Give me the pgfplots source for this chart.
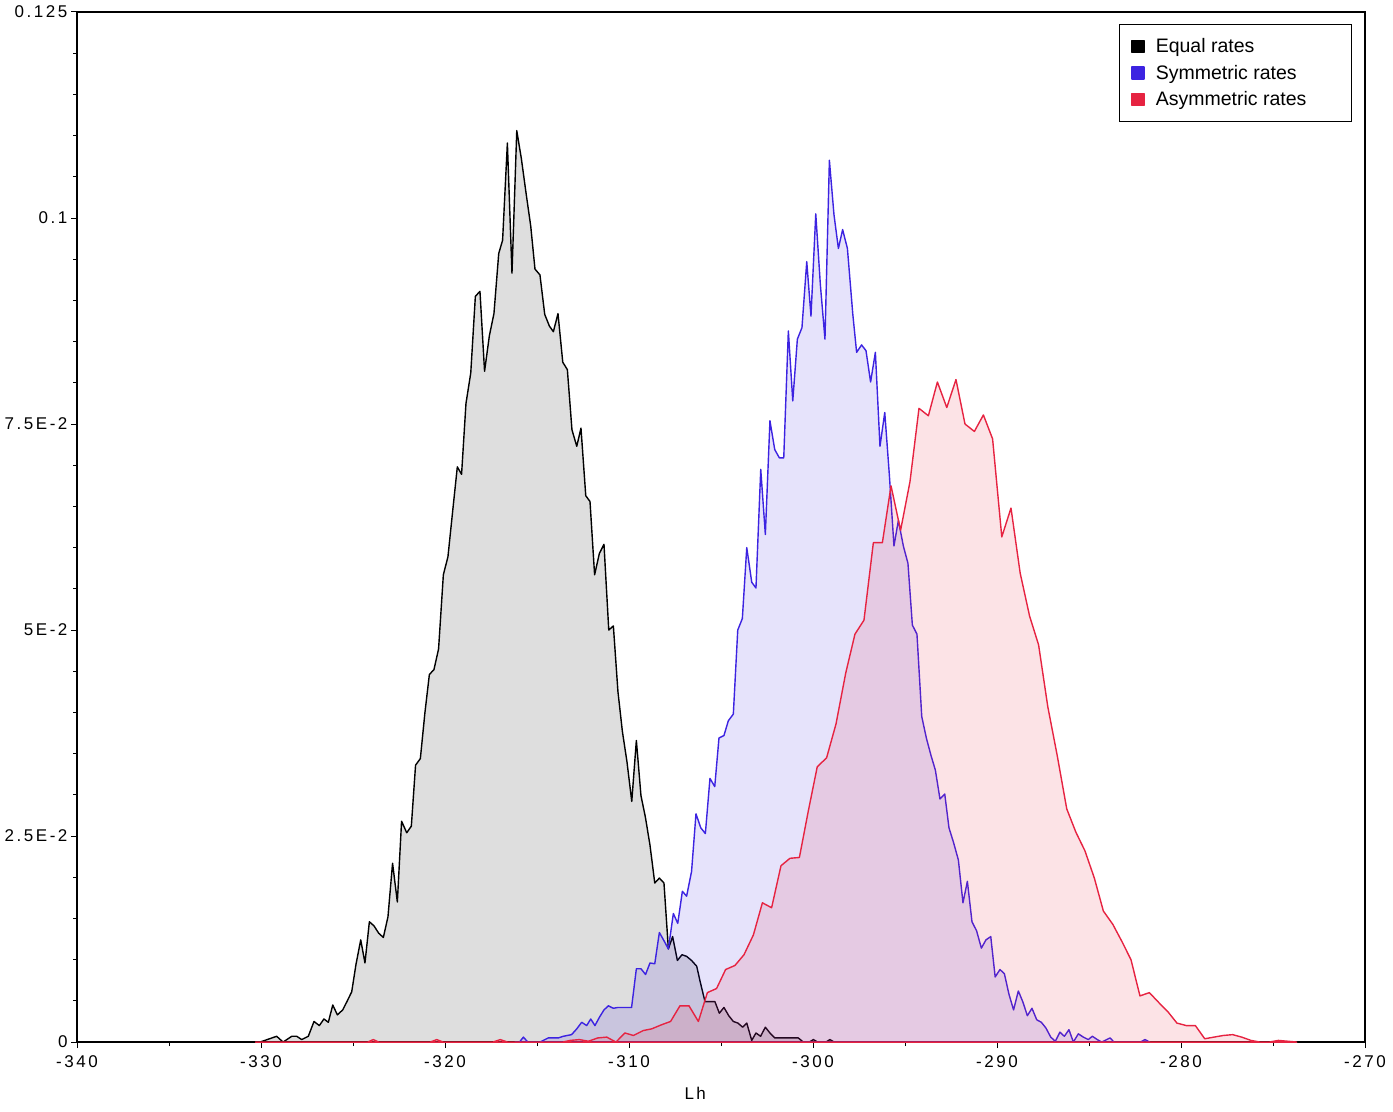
\documentclass[border=0pt]{standalone}
\usepackage{fontspec}
\setmainfont{Liberation Sans}
\newfontfamily\tickfam[LetterSpace=15]{Liberation Sans}
\usepackage{pgfplots}
\pgfplotsset{compat=1.18}
\definecolor{cBlack}{RGB}{0,0,0}
\definecolor{cBlue}{RGB}{60,35,225}
\definecolor{cRed}{RGB}{230,35,65}
\newcommand\tickfont{\fontsize{17pt}{20pt}\tickfam}
\newcommand\legfont{\fontsize{19.5pt}{23pt}\selectfont}
\begin{document}
\begin{tikzpicture}
\begin{axis}[
  name=ax, scale only axis, width=1288pt, height=1030pt,
  xmin=-340, xmax=-270, ymin=0, ymax=0.125,
  xtick={-340,-330,-320,-310,-300,-290,-280,-270},
  xticklabels={-340,-330,-320,-310,-300,-290,-280,-270},
  minor x tick num=1,
  ytick={0,0.025,0.05,0.075,0.1,0.125},
  yticklabels={0,2.5E-2,5E-2,7.5E-2,0.1,0.125},
  minor y tick num=4,
  tick align=outside, xtick pos=bottom, ytick pos=left,
  major tick length=6pt, minor tick length=4pt,
  tick style={black, line width=1pt},
  axis line style={line width=1.3pt},
  tick label style={font=\tickfont},
  xticklabel style={yshift=-4pt},
  xlabel={Lh},
  xlabel style={font=\tickfont, at={(axis description cs:0.48,0)}, anchor=north, yshift=-42pt},
  legend style={at={(1,1)}, anchor=north east, xshift=-13pt, yshift=-12pt,
    draw=black, line width=1.2pt, font=\legfont, inner xsep=12pt, inner ysep=12pt,
    row sep=7pt},
  legend cell align=left,
  legend image code/.code={\fill[#1, fill opacity=1, draw opacity=1] (0pt,-6pt) rectangle (12pt,6pt); \path (21pt,0pt);},
  every axis plot/.append style={line width=1.4pt, fill opacity=0.13, line join=round},
]
\addplot[draw=cBlack, fill=cBlack] coordinates {
(-330.3,0) (-330.05,0) (-329.15,0.0007) (-328.8,0) (-328.33,0.0007) (-328.06,0.0007)
(-327.79,0.0003) (-327.43,0.0007) (-327.12,0.0025) (-326.83,0.002) (-326.58,0.0028)
(-326.34,0.0024) (-326.1,0.0045) (-325.85,0.0033) (-325.56,0.0039) (-325.31,0.005)
(-325.07,0.0061) (-324.84,0.0094) (-324.58,0.0124) (-324.35,0.0096) (-324.11,0.0146)
(-323.86,0.0141) (-323.6,0.0132) (-323.35,0.0127) (-323.1,0.0152) (-322.85,0.0217)
(-322.59,0.017) (-322.36,0.0268) (-322.08,0.0254) (-321.83,0.0262) (-321.6,0.0336)
(-321.34,0.0344) (-321.09,0.04) (-320.85,0.0446) (-320.6,0.0452) (-320.35,0.0477)
(-320.09,0.0567) (-319.84,0.0589) (-319.58,0.0645) (-319.33,0.0698) (-319.1,0.0689)
(-318.86,0.0775) (-318.6,0.0812) (-318.35,0.0905) (-318.1,0.0911) (-317.85,0.0814)
(-317.59,0.0857) (-317.34,0.0884) (-317.08,0.0957) (-316.87,0.0973) (-316.61,0.1091)
(-316.36,0.0933) (-316.1,0.1106) (-315.85,0.1072) (-315.6,0.1031) (-315.34,0.099)
(-315.11,0.0938) (-314.84,0.0931) (-314.58,0.0883) (-314.33,0.0869) (-314.11,0.0862)
(-313.86,0.0884) (-313.6,0.0825) (-313.35,0.0816) (-313.1,0.0743) (-312.84,0.0723)
(-312.61,0.0745) (-312.35,0.0663) (-312.12,0.0656) (-311.87,0.0567) (-311.61,0.0593)
(-311.36,0.0604) (-311.1,0.05) (-310.85,0.0505) (-310.6,0.0425) (-310.36,0.0377)
(-310.11,0.034) (-309.85,0.0292) (-309.6,0.0366) (-309.35,0.0299) (-309.11,0.0273)
(-308.86,0.0239) (-308.6,0.0193) (-308.35,0.0199) (-308.1,0.0193) (-307.86,0.0113)
(-307.63,0.0128) (-307.37,0.0099) (-307.12,0.0106) (-306.87,0.0104) (-306.6,0.0099)
(-306.32,0.0092) (-306.14,0.0074) (-305.87,0.0049) (-305.6,0.0049) (-305.33,0.0049)
(-305.09,0.0035) (-304.84,0.0042) (-304.58,0.0032) (-304.33,0.0025) (-304.08,0.0023)
(-303.82,0.0018) (-303.6,0.0023) (-303.33,0.0002) (-303.1,0.0011) (-302.85,0.0007)
(-302.59,0.0018) (-302.34,0.0011) (-302.08,0.0005) (-301.79,0.0005) (-301.07,0.0005)
(-300.8,0.0005) (-300.53,0) (-300.2,0) (-299.98,0.0003) (-299.75,0) (-299.3,0)
(-299.08,0.0003) (-298.85,0)
} \closedcycle;
\addlegendentry{Equal rates}
\addplot[draw=cBlue, fill=cBlue] coordinates {
(-316.2,0) (-315.95,0) (-315.74,0.0006) (-315.5,0) (-314.84,0) (-314.39,0.0005)
(-313.84,0.0005) (-313.57,0.0007) (-313.12,0.0009) (-312.84,0.0016) (-312.57,0.0024)
(-312.3,0.002) (-312.08,0.0028) (-311.85,0.002) (-311.61,0.003) (-311.36,0.0039)
(-311.12,0.0044) (-310.85,0.0041) (-310.6,0.0042) (-309.86,0.0042) (-309.6,0.0089)
(-309.35,0.0089) (-309.1,0.0082) (-308.86,0.0096) (-308.6,0.0095) (-308.35,0.0133)
(-308.1,0.0123) (-307.86,0.0113) (-307.59,0.0156) (-307.35,0.0144) (-307.1,0.0183)
(-306.87,0.0177) (-306.6,0.0207) (-306.36,0.0277) (-306.1,0.026) (-305.85,0.0253)
(-305.6,0.032) (-305.34,0.031) (-305.11,0.0369) (-304.84,0.0372) (-304.6,0.039)
(-304.33,0.0398) (-304.09,0.05) (-303.84,0.0514) (-303.6,0.06) (-303.33,0.0558)
(-303.1,0.0551) (-302.84,0.0695) (-302.59,0.0616) (-302.34,0.0754) (-302.08,0.0719)
(-301.83,0.0709) (-301.59,0.0709) (-301.34,0.0863) (-301.1,0.0778) (-300.85,0.0853)
(-300.6,0.0867) (-300.34,0.0947) (-300.11,0.0881) (-299.85,0.1005) (-299.6,0.0919)
(-299.35,0.0853) (-299.11,0.107) (-298.86,0.1004) (-298.62,0.0963) (-298.39,0.0986)
(-298.13,0.0963) (-297.84,0.0884) (-297.63,0.0837) (-297.36,0.0846) (-297.12,0.0839)
(-296.87,0.0801) (-296.61,0.0837) (-296.36,0.0723) (-296.1,0.0764) (-295.85,0.0688)
(-295.6,0.0602) (-295.36,0.0633) (-295.09,0.0602) (-294.84,0.0581) (-294.6,0.0506)
(-294.35,0.0495) (-294.09,0.0395) (-293.84,0.0369) (-293.59,0.0348) (-293.35,0.033)
(-293.1,0.0295) (-292.84,0.0301) (-292.61,0.026) (-292.36,0.0242) (-292.1,0.0221)
(-291.85,0.0169) (-291.61,0.0195) (-291.36,0.0146) (-291.11,0.0135) (-290.85,0.0114)
(-290.6,0.0124) (-290.34,0.0128) (-290.1,0.0079) (-289.84,0.0088) (-289.6,0.0083)
(-289.35,0.0058) (-289.1,0.0039) (-288.84,0.0062) (-288.6,0.0049) (-288.35,0.0032)
(-288.1,0.0041) (-287.84,0.0027) (-287.59,0.0024) (-287.34,0.0017) (-287.08,0.0006)
(-286.83,0.0001) (-286.58,0.0012) (-286.34,0.0007) (-286.09,0.0015) (-285.85,0)
(-285.58,0.001) (-285.31,0.0006) (-285.04,0.0003) (-284.82,0.0007) (-284.55,0.0003)
(-284.31,0) (-283.86,0.0005) (-283.64,0) (-282.2,0) (-281.96,0.0003) (-281.7,0)
} \closedcycle;
\addlegendentry{Symmetric rates}
\addplot[draw=cRed, fill=cRed] coordinates {
(-330.3,0) (-324.2,0) (-323.9,0.0003) (-323.6,0) (-320.8,0) (-320.45,0.0003)
(-320.1,0) (-317.4,0) (-317.0,0.0003) (-316.6,0) (-313.6,0) (-313.2,0.0002)
(-312.7,0.0003) (-312.2,0.0001) (-311.7,0.0005) (-311.21,0.0006) (-310.71,0)
(-310.22,0.0011) (-309.76,0.0008) (-309.22,0.0014) (-308.77,0.0016) (-308.23,0.0021)
(-307.74,0.0025) (-307.23,0.0044) (-306.74,0.0044) (-306.23,0.0025) (-305.74,0.006)
(-305.24,0.0065) (-304.75,0.0088) (-304.24,0.0093) (-303.75,0.0106) (-303.24,0.013)
(-302.75,0.0169) (-302.25,0.0163) (-301.74,0.0214) (-301.25,0.0223) (-300.74,0.0224)
(-300.25,0.0281) (-299.77,0.0334) (-299.26,0.0345) (-298.75,0.0386) (-298.22,0.0448)
(-297.72,0.0495) (-297.23,0.0512) (-296.72,0.0606) (-296.23,0.0606) (-295.76,0.0675)
(-295.24,0.0621) (-294.73,0.068) (-294.24,0.0769) (-293.73,0.076) (-293.24,0.0801)
(-292.73,0.077) (-292.23,0.0804) (-291.74,0.075) (-291.23,0.0741) (-290.74,0.0761)
(-290.24,0.0732) (-289.74,0.0613) (-289.24,0.0648) (-288.74,0.0569) (-288.23,0.0517)
(-287.74,0.0482) (-287.24,0.0407) (-286.73,0.0348) (-286.21,0.0283) (-285.72,0.0255)
(-285.22,0.0232) (-284.71,0.0199) (-284.22,0.0159) (-283.71,0.0143) (-283.21,0.0122)
(-282.72,0.01) (-282.23,0.0056) (-281.72,0.006) (-281.21,0.0048) (-280.72,0.0037)
(-280.22,0.0023) (-279.71,0.002) (-279.22,0.002) (-278.71,0.0004) (-278.21,0.0006)
(-277.7,0.0008) (-277.19,0.0009) (-276.7,0.0006) (-276.2,0.0002) (-275.71,0)
(-275.2,0) (-274.71,0.0002) (-274.2,0.0001) (-273.71,0)
} \closedcycle;
\addlegendentry{Asymmetric rates\rule{31pt}{0pt}}
\end{axis}
\pgfresetboundingbox
\path[use as bounding box] ([xshift=-77pt,yshift=-69pt]ax.south west) rectangle ([xshift=28pt,yshift=12pt]ax.north east);
\end{tikzpicture}
\end{document}
